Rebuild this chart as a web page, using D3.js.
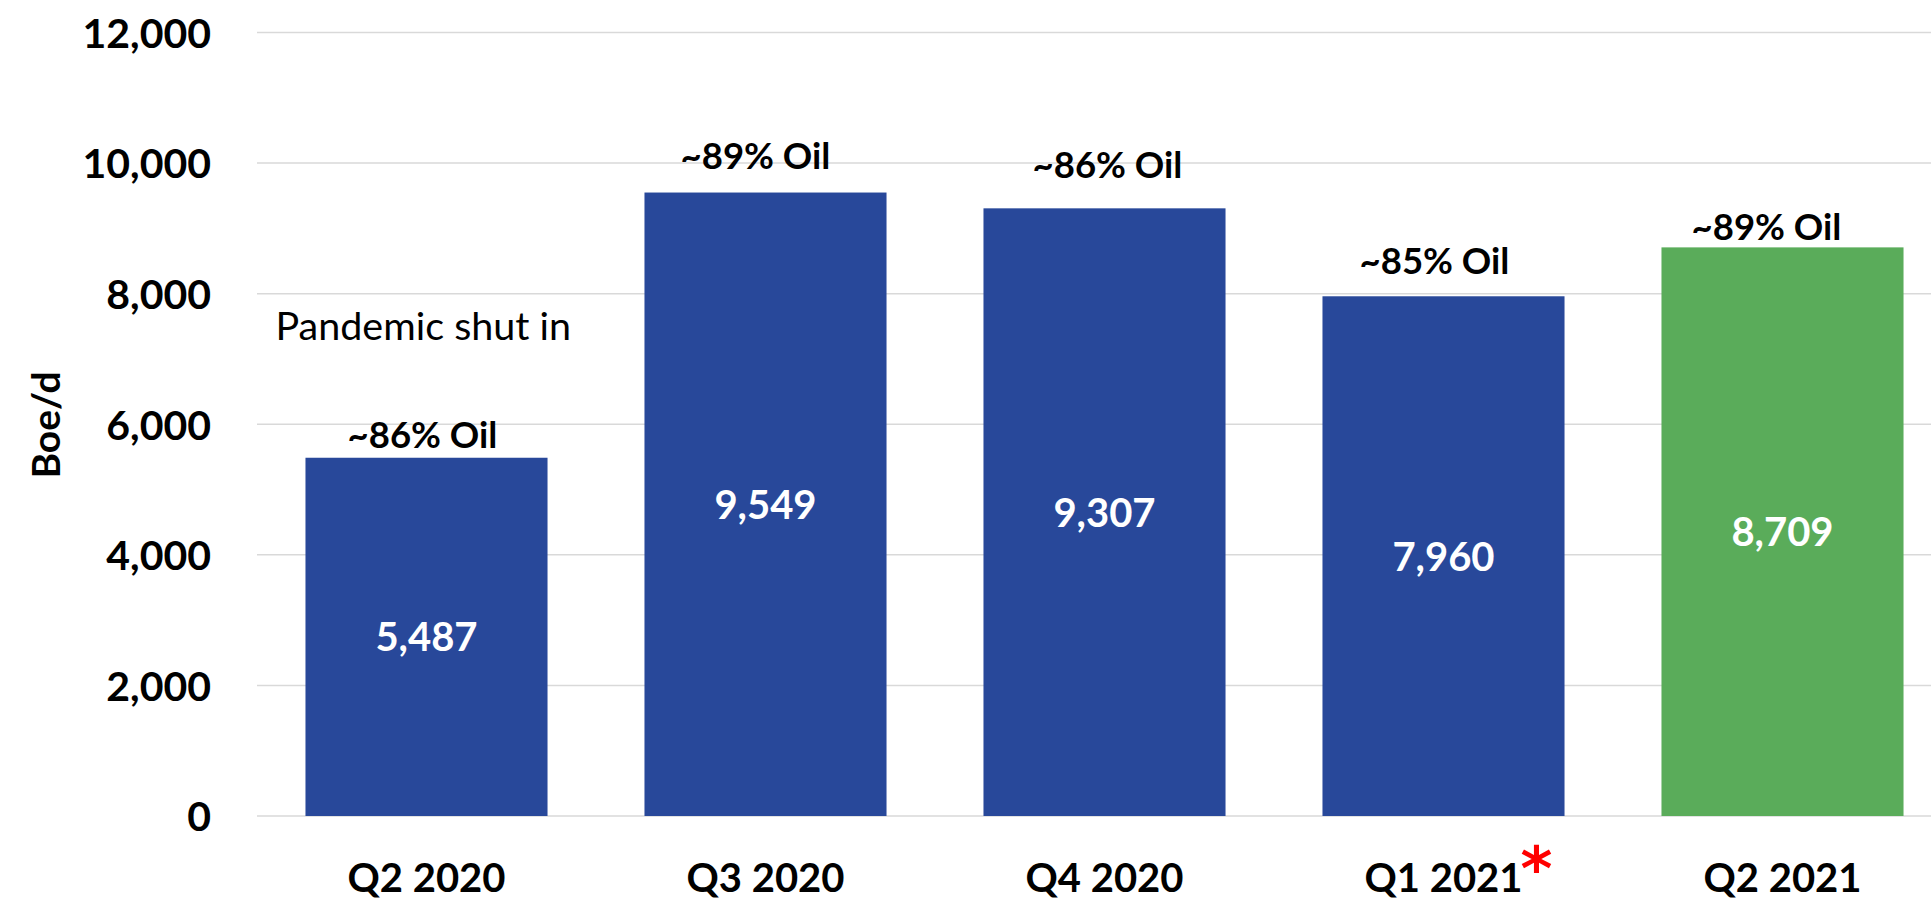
<!DOCTYPE html>
<html>
<head>
<meta charset="utf-8">
<script src="https://cdn.jsdelivr.net/npm/d3@7"></script>
<style>
  html, body { margin: 0; padding: 0; background: #ffffff; }
  svg { display: block; }
  text { font-family: Lato, "Open Sans", "Liberation Sans", sans-serif; }
</style>
</head>
<body>
<svg id="chart" width="1931" height="905"></svg>
<script>
// Quarterly production, barrels of oil equivalent per day
const quarters = ["Q2 2020", "Q3 2020", "Q4 2020", "Q1 2021", "Q2 2021"];
const boePerDay = [5487, 9549, 9307, 7960, 8709];
const oilShare = ["~86% Oil", "~89% Oil", "~86% Oil", "~85% Oil", "~89% Oil"];
const yTicks = [0, 2000, 4000, 6000, 8000, 10000, 12000];
const footnoted = ["Q1 2021"];
const currentQuarter = "Q2 2021";

// Hand placement of the oil-share callouts: [dx from bar centre, gap above bar top]
const calloutNudge = [[-4, 10], [-10, 24], [3, 30], [-9, 22], [-16, 7]];

const W = 1931, H = 905;
const plot = { left: 257, right: 1952, top: 32.5, bottom: 816 };
const BLUE = "#28489a", GREEN = "#5aac5a", GRID = "#d9d9d9";

const svg = d3.select("#chart");

const x = d3.scaleBand()
  .domain(quarters)
  .range([plot.left, plot.right])
  .paddingInner(0.286)
  .paddingOuter(0.143);

const y = d3.scaleLinear()
  .domain([0, 12000])
  .range([plot.bottom, plot.top]);

// Horizontal gridlines
svg.append("g")
  .selectAll("line")
  .data(yTicks)
  .join("line")
  .attr("x1", plot.left)
  .attr("x2", W)
  .attr("y1", d => y(d))
  .attr("y2", d => y(d))
  .attr("stroke", GRID)
  .attr("stroke-width", 1.5);

// Y axis labels
const yAxis = d3.axisLeft(y).tickValues(yTicks).tickFormat(d3.format(",")).tickSize(0).tickPadding(0);
svg.append("g")
  .attr("transform", `translate(211,0)`)
  .call(yAxis)
  .call(g => g.select(".domain").remove())
  .call(g => g.selectAll("text")
    .attr("font-size", 41)
    .attr("font-weight", 700)
    .attr("fill", "#000")
    .attr("dy", "0.36em")
    .style("font-family", "Lato, sans-serif"));

// Y axis title
svg.append("text")
  .attr("transform", `translate(60,425) rotate(-90)`)
  .attr("text-anchor", "middle")
  .attr("font-size", 39)
  .attr("font-weight", 700)
  .attr("fill", "#000")
  .text("Boe/d");

const rows = quarters.map((q, i) => ({ q, v: boePerDay[i], share: oilShare[i], nudge: calloutNudge[i] }));

// Bars
svg.append("g")
  .selectAll("rect")
  .data(rows)
  .join("rect")
  .attr("x", d => x(d.q))
  .attr("width", x.bandwidth())
  .attr("y", d => y(d.v))
  .attr("height", d => y(0) - y(d.v))
  .attr("fill", d => d.q === currentQuarter ? GREEN : BLUE);

// Value labels centred in the bars
svg.append("g")
  .selectAll("text")
  .data(rows)
  .join("text")
  .attr("x", d => x(d.q) + x.bandwidth() / 2)
  .attr("y", d => (y(d.v) + y(0)) / 2)
  .attr("dy", "0.36em")
  .attr("text-anchor", "middle")
  .attr("font-size", 40)
  .attr("font-weight", 700)
  .attr("fill", "#fff")
  .text(d => d3.format(",")(d.v));

// Oil share callouts above the bars
svg.append("g")
  .selectAll("text")
  .data(rows)
  .join("text")
  .attr("x", d => x(d.q) + x.bandwidth() / 2 + d.nudge[0])
  .attr("y", d => y(d.v) - d.nudge[1])
  .attr("text-anchor", "middle")
  .attr("font-size", 36.5)
  .attr("font-weight", 700)
  .attr("fill", "#000")
  .text(d => d.share);

// Shut-in note
svg.append("text")
  .attr("x", x(quarters[0]) - 30)
  .attr("y", y(7290))
  .attr("font-size", 39.5)
  .attr("font-weight", 400)
  .attr("fill", "#000")
  .text("Pandemic shut in");

// Category labels
const cats = svg.append("g")
  .selectAll("text")
  .data(quarters)
  .join("text")
  .attr("x", d => x(d) + x.bandwidth() / 2)
  .attr("y", 892)
  .attr("text-anchor", "middle")
  .attr("font-size", 40)
  .attr("font-weight", 700)
  .attr("fill", "#000")
  .text(d => d);

// Red footnote marker after flagged quarters
cats.filter(d => footnoted.includes(d)).each(function(d) {
  const bb = this.getBBox();
  svg.append("text")
    .attr("x", bb.x + bb.width - 2)
    .attr("y", 890)
    .attr("font-size", 61)
    .attr("font-weight", 700)
    .attr("fill", "#ff0000")
    .style("font-family", "'DejaVu Sans', sans-serif")
    .text("*");
});
</script>
</body>
</html>
